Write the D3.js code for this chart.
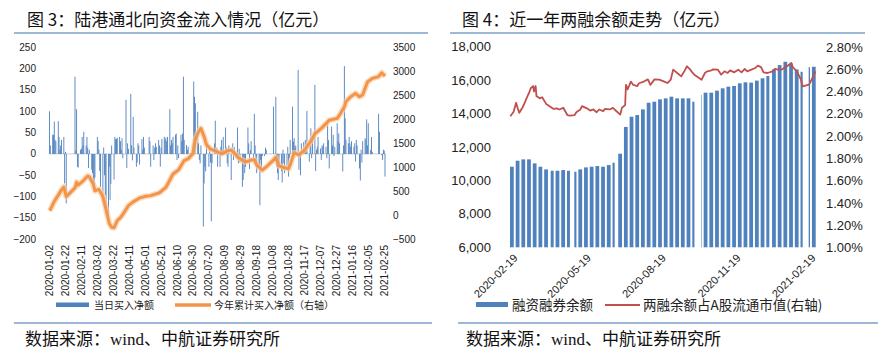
<!DOCTYPE html>
<html><head><meta charset="utf-8">
<script src="https://cdn.jsdelivr.net/npm/d3@7"></script>
<style>body{margin:0;background:#fff}svg{display:block}</style>
</head><body>
<svg id="c" width="887" height="360"></svg>
<script>
// ---------------- DATA: chart 3 (northbound daily net buy, 亿元) ----------------
const net2020Jan = [100, 20, 45, 45, 76, 33, 30, 77, 40, 10, 20, 33, 40, -69, 5, -116];
const net2020Feb = [181, 8, 105, -30, -32, 10, 13, 40, 20, 52, 20, 40, 15, -33, 10, -37, -45, -69, -84, -55];
const net2020Mar = [40, 30, 10, -40, -77, -100, 15, -50, -96, -143, -147, -30, -108, -70, 20, -60, 40, 35, 35, 38, 40, 30];
const net2020Apr = [10, 37, -10, 127, -33, 25, 12, 141, 20, -15, 87, 15, -30, -20, 25, 20, -25, 35, 10, 40, 15];
const net2020May = [40, 30, -30, 20, -14, 15, 25, 17, 33, 20, -30, 15, 35, 40, 33, 38, 30, 40];
const net2020Jun = [105, 20, 33, 25, 40, 45, 48, -14, 20, -10, 45, 30, 48, 181, 33, 21, 10, 17, 8, 25];
const net2020Jul = [170, 134, 119, 99, 25, -14, -22, 20, -170, -69, -30, -41, 17, -30, 10, -20, -158, -22, 25, 78, 10, 15, -30];
const net2020Aug = [-30, 17, 33, 9, 40, 62, 15, -22, -30, 20, -61, 10, 25, -14, 15, -10, 62, -22, 12, -20, -77];
const net2020Sep = [-61, -20, -45, -30, 62, 25, -35, 9, 30, -15, 94, 20, -22, -45, -30, -120, -14, -40, -5, -5, 15, 10];
const net2020Oct = [111, 134, -30, -45, -61, -25, -40, -67, 10, -22, -45, -30, 17, -53, -10, 33];
const net2020Nov = [111, 29, 37, 15, 20, 197, -37, 5, -50, 25, 28, 10, 33, 15, 101, -18, 20, 60, -10, 33, 162];
const net2020Dec = [-40, 10, 17, 40, 13, -14, 20, 17, 25, 17, -10, 80, 33, -34, 64, 20, 45, -5, 17, 72, 30, 48, 25];
const net2021Jan = [-41, 20, 206, 84, 33, 25, 40, 25, 17, 30, 17, 25, -18, 33, 20, -34, -62, 10, -20, 30];
const net2021Feb = [37, 33, 81, 20, 72, 10, 40, 5, 94, 52, -3, -14, 10, 8, -53];

// cumulative net buy this year (right axis)
const cumDates = ['2020-01-02','2020-01-03','2020-01-08','2020-01-13','2020-01-17','2020-01-20','2020-01-21','2020-01-23',
 '2020-02-03','2020-02-05','2020-02-07','2020-02-12','2020-02-19','2020-02-21','2020-02-26','2020-02-28',
 '2020-03-04','2020-03-09','2020-03-13','2020-03-17','2020-03-20','2020-03-23','2020-03-27','2020-03-31',
 '2020-04-03','2020-04-10','2020-04-16','2020-04-24','2020-04-30','2020-05-08','2020-05-19','2020-05-27',
 '2020-06-05','2020-06-12','2020-06-19','2020-06-24','2020-06-30','2020-07-03','2020-07-06','2020-07-10',
 '2020-07-14','2020-07-17','2020-07-22','2020-07-27','2020-07-31','2020-08-05','2020-08-12','2020-08-17',
 '2020-08-21','2020-08-26','2020-08-31','2020-09-04','2020-09-11','2020-09-15','2020-09-18','2020-09-25',
 '2020-09-30','2020-10-09','2020-10-12','2020-10-16','2020-10-23','2020-10-28','2020-10-30','2020-11-04',
 '2020-11-10','2020-11-17','2020-11-23','2020-11-27','2020-11-30','2020-12-03','2020-12-08','2020-12-14',
 '2020-12-18','2020-12-28','2020-12-31','2021-01-06','2021-01-08','2021-01-14','2021-01-20','2021-01-25',
 '2021-01-29','2021-02-04','2021-02-10','2021-02-18','2021-02-22','2021-02-26'];
const cumValues = [100,120,290,420,530,590,520,390,
 570,690,630,700,820,800,650,510,
 540,390,120,-170,-250,-260,-110,-50,
 20,200,280,360,390,410,470,580,
 860,950,1140,1180,1290,1580,1710,1810,
 1640,1470,1380,1350,1320,1280,1340,1360,
 1300,1200,1150,1110,1150,1160,1050,940,
 1010,1150,1210,1030,990,970,1050,1300,
 1260,1360,1500,1600,1700,1740,1810,1910,
 1980,2020,2090,2260,2370,2470,2540,2470,
 2510,2780,2850,2890,2970,2900];

const yTicksL3 = [-200,-150,-100,-50,0,50,100,150,200,250];
const yTicksR3 = [-500,0,500,1000,1500,2000,2500,3000,3500];
const xTicks3 = ['2020-01-02','2020-01-22','2020-02-11','2020-03-02','2020-03-22','2020-04-11','2020-05-01',
 '2020-05-21','2020-06-10','2020-06-30','2020-07-20','2020-08-09','2020-08-29','2020-09-18','2020-10-08',
 '2020-10-28','2020-11-17','2020-12-07','2020-12-27','2021-01-16','2021-02-05','2021-02-25'];

// ---------------- DATA: chart 4 (margin balance, 亿元, one value per week) ----------------
const marginWeekly = [10820,11180,11260,11260,11020,10820,10660,10580,10580,10620,10580,10520,10660,10780,
 10820,10860,10820,10920,11060,11600,13200,13810,13910,14250,14650,14710,14850,14910,15010,14910,14910,14910,
 14710,15110,15250,15250,15370,15510,15610,15650,15810,15870,15850,15970,16110,16250,16640,16900,17100,17000,
 16640,16500,16770,16800];
// margin balance / A-share free-float market cap (%), right axis
const ratioDates = ['2020-02-17','2020-02-18','2020-02-21','2020-02-24','2020-02-26','2020-02-28','2020-03-03','2020-03-05',
 '2020-03-09','2020-03-11','2020-03-13','2020-03-16','2020-03-17','2020-03-19','2020-03-20','2020-03-24','2020-03-27',
 '2020-04-01','2020-04-07','2020-04-10','2020-04-14','2020-04-17','2020-04-22','2020-04-27','2020-04-30','2020-05-06',
 '2020-05-08','2020-05-13','2020-05-15','2020-05-21','2020-05-25','2020-05-29','2020-06-02','2020-06-05','2020-06-10',
 '2020-06-12','2020-06-18','2020-06-22','2020-06-24','2020-07-01','2020-07-03','2020-07-07','2020-07-08','2020-07-10',
 '2020-07-14','2020-07-17','2020-07-22','2020-07-24','2020-07-30','2020-08-04','2020-08-07','2020-08-12','2020-08-18',
 '2020-08-24','2020-08-28','2020-09-01','2020-09-04','2020-09-09','2020-09-14','2020-09-17','2020-09-21','2020-09-25',
 '2020-09-28','2020-09-30','2020-10-09','2020-10-13','2020-10-16','2020-10-21','2020-10-23','2020-10-29','2020-11-02',
 '2020-11-06','2020-11-10','2020-11-13','2020-11-18','2020-11-23','2020-11-27','2020-12-01','2020-12-04','2020-12-09',
 '2020-12-14','2020-12-17','2020-12-21','2020-12-24','2020-12-29','2021-01-04','2021-01-07','2021-01-11','2021-01-15',
 '2021-01-20','2021-01-25','2021-01-27','2021-01-29','2021-02-03','2021-02-08','2021-02-10','2021-02-18','2021-02-19',
 '2021-02-23','2021-02-26'];
const ratioValues = [2.18,2.19,2.22,2.30,2.25,2.21,2.26,2.29,
 2.36,2.39,2.43,2.45,2.40,2.45,2.36,2.34,2.35,
 2.29,2.26,2.245,2.25,2.24,2.255,2.19,2.185,2.19,
 2.215,2.24,2.27,2.25,2.23,2.24,2.215,2.24,2.225,
 2.245,2.24,2.254,2.24,2.194,2.254,2.28,2.46,2.42,
 2.49,2.46,2.45,2.475,2.49,2.51,2.46,2.51,2.507,
 2.49,2.477,2.507,2.597,2.567,2.537,2.573,2.627,2.597,
 2.567,2.552,2.507,2.567,2.582,2.59,2.60,2.597,2.552,
 2.582,2.567,2.59,2.573,2.597,2.573,2.603,2.582,2.597,
 2.612,2.633,2.62,2.573,2.567,2.582,2.603,2.597,2.597,
 2.62,2.642,2.657,2.62,2.582,2.507,2.448,2.463,2.477,
 2.537,2.582];
const yTicksL4 = [6000,8000,10000,12000,14000,16000,18000];
const yTicksR4 = [1.0,1.2,1.4,1.6,1.8,2.0,2.2,2.4,2.6,2.8];
const xTicks4 = ['2020-02-19','2020-05-19','2020-08-19','2020-11-19','2021-02-19'];

// exchange holidays (weekdays without trading)
const holidayList = ['2020-01-01','2020-01-24','2020-01-27','2020-01-28','2020-01-29','2020-01-30','2020-01-31',
 '2020-04-06','2020-05-01','2020-05-04','2020-05-05','2020-06-25','2020-06-26',
 '2020-10-01','2020-10-02','2020-10-05','2020-10-06','2020-10-07','2020-10-08',
 '2021-01-01','2021-02-11','2021-02-12','2021-02-15','2021-02-16','2021-02-17'];

// ---------------- helpers ----------------
const parse = d3.timeParse('%Y-%m-%d');
const fmt = d3.timeFormat('%Y-%m-%d');
const hol = new Set(holidayList);
function tradingDays(a, b) {
  return d3.timeDay.range(parse(a), d3.timeDay.offset(parse(b), 1))
    .filter(d => d.getDay() !== 0 && d.getDay() !== 6 && !hol.has(fmt(d)));
}
const svg = d3.select('#c');
svg.append('rect').attr('width', 887).attr('height', 360).attr('fill', '#fff');
const CJK = "'Noto Sans CJK SC','Noto Sans',sans-serif";
const NUM = "'Liberation Sans',Arial,sans-serif";
const SRC = "'Liberation Serif','Noto Sans CJK SC',serif";
const ruleColor = '#7BA0C9';
const blue = '#4F81BD';

// ---------------- Chart 3 ----------------
(function () {
  const g = svg.append('g');
  const days = tradingDays('2020-01-02', '2021-02-26');
  const vals = [].concat(net2020Jan, net2020Feb, net2020Mar, net2020Apr, net2020May, net2020Jun, net2020Jul,
    net2020Aug, net2020Sep, net2020Oct, net2020Nov, net2020Dec, net2021Jan, net2021Feb);
  const data = days.map((d, i) => ({ d, v: vals[i] })).filter(e => e.v !== undefined);

  const x = d3.scaleTime().domain([parse('2020-01-02'), parse('2021-02-26')]).range([49.5, 385]);
  const yL = d3.scaleLinear().domain([-200, 250]).range([239.3, 47.3]);
  const yR = d3.scaleLinear().domain([-500, 3500]).range([239.3, 47.3]);

  g.append('text').attr('x', 27).attr('y', 26).attr('font-family', CJK).attr('font-size', 17)
    .attr('fill', '#111').text('图 3：陆港通北向资金流入情况（亿元）');
  g.append('line').attr('x1', 14).attr('x2', 428).attr('y1', 33).attr('y2', 33)
    .attr('stroke', ruleColor).attr('stroke-width', 1.5);

  g.append('line').attr('x1', 49).attr('x2', 386).attr('y1', yL(0)).attr('y2', yL(0))
    .attr('stroke', '#D9D9D9').attr('stroke-width', 1.2);

  g.selectAll('rect.b').data(data).join('rect').attr('class', 'b')
    .attr('x', e => x(e.d) - 0.45).attr('width', 0.9)
    .attr('y', e => Math.min(yL(e.v), yL(0))).attr('height', e => Math.abs(yL(e.v) - yL(0)))
    .attr('fill', blue);

  const cum = cumDates.map((d, i) => ({ d: parse(d), v: cumValues[i] }));
  const line = d3.line().x(e => x(e.d)).y(e => yR(e.v)).curve(d3.curveLinear);
  g.append('path').attr('d', line(cum)).attr('fill', 'none').attr('stroke', '#F9CFA6')
    .attr('stroke-width', 6).attr('stroke-linejoin', 'round').attr('opacity', 0.7);
  g.append('path').attr('d', line(cum)).attr('fill', 'none').attr('stroke', '#F2944A')
    .attr('stroke-width', 3).attr('stroke-linejoin', 'round');

  g.selectAll('text.yl').data(yTicksL3).join('text').attr('class', 'yl')
    .attr('x', 36).attr('y', v => yL(v)).attr('dy', '0.35em').attr('text-anchor', 'end')
    .attr('font-family', NUM).attr('font-size', 10).attr('fill', '#222')
    .text(v => (v < 0 ? '−' + Math.abs(v) : v));
  g.selectAll('text.yr').data(yTicksR3).join('text').attr('class', 'yr')
    .attr('x', 393).attr('y', v => yR(v)).attr('dy', '0.35em').attr('text-anchor', 'start')
    .attr('font-family', NUM).attr('font-size', 10).attr('fill', '#222')
    .text(v => (v < 0 ? '−' + Math.abs(v) : v));
  g.selectAll('text.xl').data(xTicks3).join('text').attr('class', 'xl')
    .attr('transform', s => `translate(${x(parse(s))},245) rotate(-90)`)
    .attr('dy', '0.35em').attr('text-anchor', 'end')
    .attr('font-family', NUM).attr('font-size', 10).attr('fill', '#222').text(s => s);

  // legend
  g.append('rect').attr('x', 56).attr('y', 302.5).attr('width', 33).attr('height', 4.5).attr('fill', blue);
  g.append('text').attr('x', 94).attr('y', 309).attr('font-family', CJK).attr('font-size', 10)
    .attr('fill', '#222').text('当日买入净额');
  g.append('line').attr('x1', 175).attr('x2', 211).attr('y1', 305).attr('y2', 305)
    .attr('stroke', '#F2944A').attr('stroke-width', 3.5);
  g.append('text').attr('x', 214).attr('y', 309).attr('font-family', CJK).attr('font-size', 10)
    .attr('fill', '#222').text('今年累计买入净额（右轴）');

  g.append('line').attr('x1', 14).attr('x2', 432).attr('y1', 323).attr('y2', 323)
    .attr('stroke', ruleColor).attr('stroke-width', 1.5);
  g.append('text').attr('x', 25).attr('y', 345).attr('font-family', SRC)
    .attr('font-size', 17).attr('fill', '#111').text('数据来源：wind、中航证券研究所');
})();

// ---------------- Chart 4 ----------------
(function () {
  const g = svg.append('g');
  const days = tradingDays('2020-02-17', '2021-02-26');
  const weeks = d3.groups(days, d => +d3.timeMonday(d));
  const x = d3.scaleTime().domain([parse('2020-02-17'), parse('2021-02-27')]).range([510, 816]);
  const yL = d3.scaleLinear().domain([6000, 18000]).range([247.3, 46.7]);
  const yR = d3.scaleLinear().domain([1.0, 2.8]).range([247.8, 47.0]);

  g.append('text').attr('x', 462).attr('y', 26).attr('font-family', CJK).attr('font-size', 17)
    .attr('fill', '#111').text('图 4：近一年两融余额走势（亿元）');
  g.append('line').attr('x1', 450).attr('x2', 865).attr('y1', 33).attr('y2', 33)
    .attr('stroke', ruleColor).attr('stroke-width', 1.5);

  const bars = weeks.map((w, i) => ({ a: w[1][0], b: d3.timeDay.offset(w[1][w[1].length - 1], 1), v: marginWeekly[i] }))
    .filter(e => e.v !== undefined);
  g.selectAll('rect.m').data(bars).join('rect').attr('class', 'm')
    .attr('x', e => x(e.a)).attr('width', e => x(e.b) - x(e.a) - 0.3)
    .attr('y', e => yL(e.v)).attr('height', e => yL(6000) - yL(e.v)).attr('fill', blue);

  const pts = ratioDates.map((d, i) => ({ d: parse(d), v: ratioValues[i] }));
  g.append('path').attr('d', d3.line().x(e => x(e.d) + 0.4).y(e => yR(e.v))(pts))
    .attr('fill', 'none').attr('stroke', '#C0504D').attr('stroke-width', 1.8).attr('stroke-linejoin', 'round');

  g.selectAll('text.yl').data(yTicksL4).join('text').attr('class', 'yl')
    .attr('x', 491).attr('y', v => yL(v)).attr('dy', '0.35em').attr('text-anchor', 'end')
    .attr('font-family', NUM).attr('font-size', 13).attr('fill', '#222').text(d3.format(','));
  g.selectAll('text.yr').data(yTicksR4).join('text').attr('class', 'yr')
    .attr('x', 826).attr('y', v => yR(v)).attr('dy', '0.35em').attr('text-anchor', 'start')
    .attr('font-family', NUM).attr('font-size', 13).attr('fill', '#222').text(v => v.toFixed(2) + '%');
  g.selectAll('text.xl').data(xTicks4).join('text').attr('class', 'xl')
    .attr('transform', s => `translate(${x(parse(s)) + 4},256) rotate(-45)`)
    .attr('dy', '0.35em').attr('text-anchor', 'end')
    .attr('font-family', NUM).attr('font-size', 11).attr('fill', '#222').text(s => s);

  g.append('rect').attr('x', 476).attr('y', 302).attr('width', 32).attr('height', 5).attr('fill', blue);
  g.append('text').attr('x', 512).attr('y', 310).attr('font-family', CJK).attr('font-size', 13.5)
    .attr('fill', '#222').text('融资融券余额');
  g.append('line').attr('x1', 605).attr('x2', 640).attr('y1', 305).attr('y2', 305)
    .attr('stroke', '#C0504D').attr('stroke-width', 2);
  g.append('text').attr('x', 643).attr('y', 310).attr('font-family', CJK).attr('font-size', 13.5)
    .attr('fill', '#222').text('两融余额占A股流通市值(右轴)');

  g.append('line').attr('x1', 458).attr('x2', 878).attr('y1', 323).attr('y2', 323)
    .attr('stroke', ruleColor).attr('stroke-width', 1.5);
  g.append('text').attr('x', 466).attr('y', 345).attr('font-family', SRC)
    .attr('font-size', 17).attr('fill', '#111').text('数据来源：wind、中航证券研究所');
})();
</script>
</body></html>
